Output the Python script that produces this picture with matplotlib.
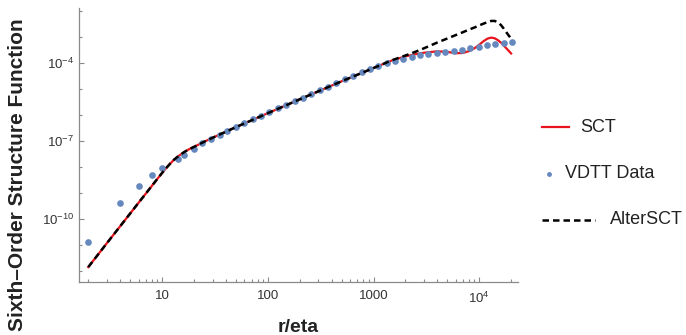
import matplotlib
matplotlib.use('Agg')
import matplotlib.pyplot as plt
from matplotlib.lines import Line2D
from matplotlib.ticker import FixedLocator, FixedFormatter, LogLocator, NullFormatter

plt.rcParams['font.family'] = ['Liberation Sans', 'DejaVu Sans']
plt.rcParams['mathtext.fontset'] = 'custom'
plt.rcParams['mathtext.rm'] = 'Liberation Sans'
plt.rcParams['mathtext.it'] = 'Liberation Sans:italic'
plt.rcParams['mathtext.bf'] = 'Liberation Sans:bold'

# VDTT data points
vdtt_r = [2, 4, 6, 8, 10, 14, 16, 20, 24, 29, 35, 41, 50, 60, 72, 86, 103, 124,
          149, 179, 214, 257, 309, 371, 445, 534, 641, 769, 923, 1107, 1329,
          1595, 1914, 2297, 2756, 3307, 3969, 4763, 5715, 6858, 8230, 9876,
          11851, 14221, 17065, 20478]
vdtt_s6 = [1.3e-11, 4.2e-10, 1.9e-9, 5.0e-9, 8.9e-9, 2.0e-8, 2.95e-8, 5.2e-8,
           8.3e-8, 1.26e-7, 1.74e-7, 2.4e-7, 3.5e-7, 4.9e-7, 6.9e-7, 9.5e-7,
           1.32e-6, 1.82e-6, 2.5e-6, 3.5e-6, 4.8e-6, 6.6e-6, 9.1e-6, 1.26e-5,
           1.74e-5, 2.4e-5, 3.3e-5, 4.5e-5, 6.0e-5, 7.9e-5, 1.02e-4, 1.23e-4,
           1.48e-4, 1.78e-4, 2.04e-4, 2.3e-4, 2.6e-4, 2.8e-4, 3.1e-4, 3.4e-4,
           3.8e-4, 4.3e-4, 5.0e-4, 5.8e-4, 6.3e-4, 6.8e-4]

# model curves (SCT and AlterSCT)
model_r = [2, 3, 4, 5, 6, 7, 8, 9, 10, 11, 12, 13, 14, 16, 18, 20, 25, 30, 40,
           50, 70, 100, 150, 200, 300, 500, 700, 1000, 1500, 2000, 2500, 3000,
           4000, 5000, 6000, 7000, 8000, 9000, 10000, 11000, 12000, 13000,
           14000, 15000, 16000, 17000, 18000, 19000, 20000]
sct = [1.4e-12, 1.17e-11, 5.2e-11, 1.66e-10, 4.3e-10, 9.5e-10, 1.9e-9,
       3.5e-9, 6.0e-9, 9.5e-9, 1.41e-8, 1.95e-8, 2.5e-8, 3.7e-8, 4.9e-8,
       6.0e-8, 9.5e-8, 1.35e-7, 2.3e-7, 3.5e-7, 6.3e-7, 1.2e-6, 2.45e-6,
       4.1e-6, 8.3e-6, 2.04e-5, 3.6e-5, 6.6e-5, 1.3e-4, 1.85e-4, 2.25e-4,
       2.55e-4, 2.9e-4, 2.75e-4, 2.45e-4, 2.5e-4, 2.95e-4, 3.8e-4, 5.2e-4,
       7.2e-4, 9.0e-4, 9.8e-4, 9.2e-4, 7.8e-4, 6.3e-4, 4.9e-4, 3.8e-4,
       3.0e-4, 2.4e-4]
alter_sct = [1.4e-12, 1.17e-11, 5.2e-11, 1.66e-10, 4.3e-10, 9.5e-10, 1.9e-9,
             3.5e-9, 6.0e-9, 9.5e-9, 1.41e-8, 1.95e-8, 2.5e-8, 3.7e-8, 4.9e-8,
             6.0e-8, 9.5e-8, 1.35e-7, 2.3e-7, 3.5e-7, 6.3e-7, 1.2e-6, 2.45e-6,
             4.1e-6, 8.3e-6, 2.04e-5, 3.6e-5, 6.6e-5, 1.32e-4, 2.0e-4, 2.8e-4,
             3.8e-4, 6.3e-4, 9.1e-4, 1.23e-3, 1.58e-3, 2.0e-3, 2.4e-3, 2.9e-3,
             3.4e-3, 3.9e-3, 4.3e-3, 4.3e-3, 3.8e-3, 3.0e-3, 2.2e-3, 1.58e-3,
             1.17e-3, 9.1e-4]

y_major = [1e-10, 1e-7, 1e-4]
y_labels = [r'$\mathregular{10^{-10}}$', r'$\mathregular{10^{-7}}$', r'$\mathregular{10^{-4}}$']
y_minor = [1e-12, 1e-11, 1e-9, 1e-8, 1e-6, 1e-5, 1e-3, 1e-2]
x_major = [10, 100, 1000, 10000]
x_labels = ['10', '100', '1000', r'$\mathregular{10^{4}}$']

fig = plt.figure(figsize=(6.86, 3.35), dpi=100)
ax = fig.add_axes([0.115, 0.158, 0.64, 0.818])

ax.plot(model_r, sct, color='#e8141c', lw=1.6, zorder=2)
ax.plot(vdtt_r, vdtt_s6, 'o', color='#6588bf', ms=4.8, mec='none', zorder=3)
ax.plot(model_r, alter_sct, color='black', lw=1.8, dashes=(2.6, 1.6), zorder=4)

ax.set_xscale('log')
ax.set_yscale('log')
ax.set_xlim(1.63, 23200)
ax.set_ylim(3.7e-13, 1.35e-2)

ax.xaxis.set_major_locator(FixedLocator(x_major))
ax.xaxis.set_major_formatter(FixedFormatter(x_labels))
ax.xaxis.set_minor_locator(LogLocator(base=10, subs=range(2, 10), numticks=20))
ax.xaxis.set_minor_formatter(NullFormatter())
ax.yaxis.set_major_locator(FixedLocator(y_major))
ax.yaxis.set_major_formatter(FixedFormatter(y_labels))
ax.yaxis.set_minor_locator(FixedLocator(y_minor))
ax.yaxis.set_minor_formatter(NullFormatter())

for s in ['top', 'right']:
    ax.spines[s].set_visible(False)
for s in ['left', 'bottom']:
    ax.spines[s].set_color('#8a8a8a')
    ax.spines[s].set_linewidth(0.9)
ax.tick_params(which='both', direction='in', color='#8a8a8a', width=0.8)
ax.tick_params(which='major', length=3.5, labelsize=9.5, labelcolor='#333333')
ax.tick_params(which='minor', length=2)
ax.tick_params(axis='x', which='major', pad=6)
ax.tick_params(axis='y', which='major', pad=3.5)

fig.text(0.025, 0.48, 'Sixth\u2013Order Structure Function', rotation=90,
         ha='center', va='center', fontsize=15, fontweight='bold', color='#222222')
fig.text(0.434, 0.021, 'r/eta', ha='center', va='center', fontsize=14,
         fontweight='bold', color='#222222')

# legend drawn in figure coordinates
def fy(py):
    return 1 - py / 335.0

def fx(px):
    return px / 686.0

fig.add_artist(Line2D([fx(542), fx(569)], [fy(127), fy(127)], color='#e8141c', lw=1.6))
fig.text(fx(580), fy(127), 'SCT', va='center', ha='left', fontsize=13, color='#222222')
fig.add_artist(Line2D([fx(549)], [fy(174)], marker='o', color='#6588bf', ms=3.5, mec='none', ls='none'))
fig.text(fx(565), fy(174), 'VDTT Data', va='center', ha='left', fontsize=13, color='#222222')
fig.add_artist(Line2D([fx(542), fx(595)], [fy(220), fy(220)], color='black', lw=1.8, dashes=(2.6, 1.6)))
fig.text(fx(610), fy(220), 'AlterSCT', va='center', ha='left', fontsize=13, color='#222222')

fig.savefig('out.png', dpi=100)
